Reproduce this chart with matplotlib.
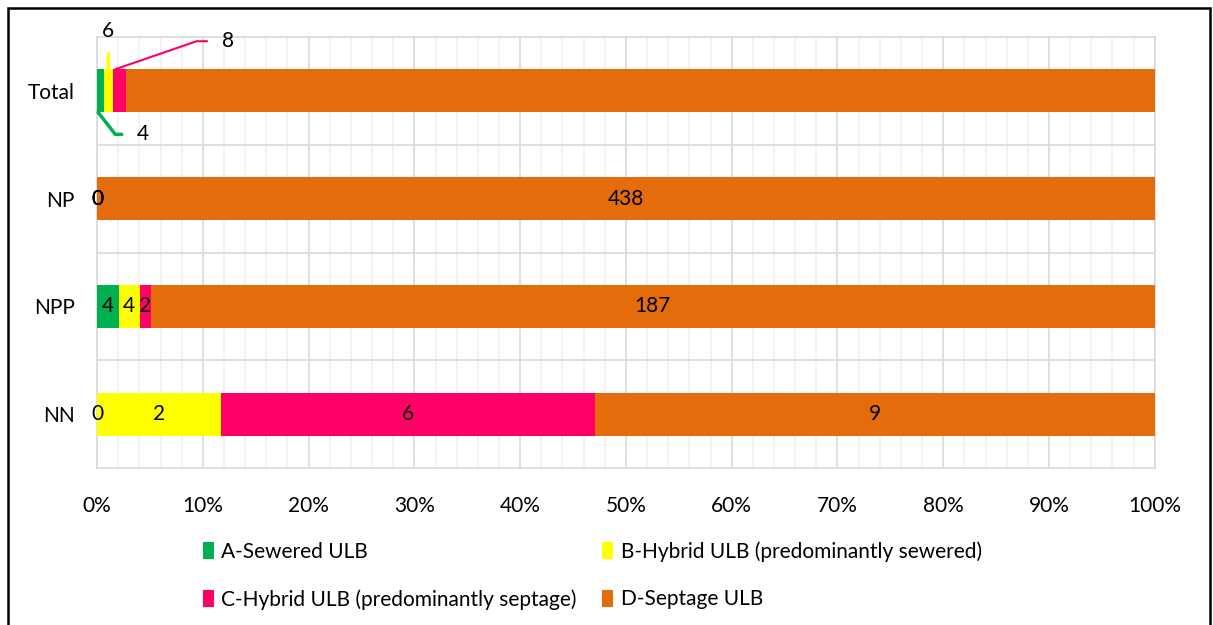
import matplotlib.pyplot as plt
from matplotlib.patches import Rectangle, Patch

plt.rcParams['font.family'] = ['Lato', 'DejaVu Sans']

# data, bottom row first
categories = ["NN", "NPP", "NP", "Total"]
series_names = ["A-Sewered ULB", "B-Hybrid ULB (predominantly sewered)",
                "C-Hybrid ULB (predominantly septage)", "D-Septage ULB"]
sewered = [0, 4, 0, 4]
hybrid_sewered = [2, 4, 0, 6]
hybrid_septage = [6, 2, 0, 8]
septage = [9, 187, 438, 634]
colors = ["#00B050", "#FFFF00", "#FF0066", "#E46C0A"]

series = [sewered, hybrid_sewered, hybrid_septage, septage]
totals = [sum(v) for v in zip(*series)]
fs = 15

fig = plt.figure(figsize=(12.13, 6.25), dpi=100)
ax = fig.add_axes([0.080, 0.251, 0.872, 0.690])

# outer frame of the chart
fig.patches.append(Rectangle((0.0065, -0.05), 0.991, 1.037, transform=fig.transFigure,
                             fill=False, edgecolor="black", linewidth=1.8))

ypos = list(range(len(categories)))
left = [0.0] * len(categories)
bar_h = 0.4
for name, vals, col in zip(series_names, series, colors):
    pct = [v / t * 100 for v, t in zip(vals, totals)]
    ax.barh(ypos, pct, left=left, height=bar_h, color=col, label=name, zorder=3)
    for i, cat in enumerate(categories):
        if cat == "Total":
            continue
        ax.text(left[i] + pct[i] / 2, ypos[i], str(vals[i]), ha="center", va="center",
                fontsize=fs, zorder=4)
    left = [l + p for l, p in zip(left, pct)]

# callout labels for the Total bar
t = categories.index("Total")
cum = [0.0]
for vals in series:
    cum.append(cum[-1] + vals[t] / totals[t] * 100)
top = t + bar_h / 2
bot = t - bar_h / 2
ax.annotate(str(sewered[t]), xy=(cum[0] + 0.1, bot), xytext=(45, -22), textcoords="offset pixels",
            ha="center", va="center", fontsize=fs,
            arrowprops=dict(arrowstyle="-", color=colors[0], lw=2.5, shrinkA=9, shrinkB=0,
                            connectionstyle="angle,angleA=0,angleB=-52,rad=0"))
ax.annotate(str(hybrid_sewered[t]), xy=((cum[1] + cum[2]) / 2, top), xytext=(0, 38),
            textcoords="offset pixels", ha="center", va="center", fontsize=fs,
            arrowprops=dict(arrowstyle="-", color=colors[1], lw=2.5, shrinkA=7, shrinkB=0))
ax.annotate(str(hybrid_septage[t]), xy=(cum[2] + 0.2, top), xytext=(113, 28),
            textcoords="offset pixels", ha="center", va="center", fontsize=fs,
            arrowprops=dict(arrowstyle="-", color=colors[2], lw=1.5, shrinkA=9, shrinkB=0,
                            connectionstyle="angle,angleA=0,angleB=19,rad=0"))

ax.set_xlim(0, 100)
ax.set_ylim(-0.5, len(categories) - 0.5)
ax.set_xticks(range(0, 101, 10))
ax.set_xticklabels([f"{v}%" for v in range(0, 101, 10)])
ax.set_xticks(range(0, 101, 2), minor=True)
ax.set_yticks(ypos)
ax.set_yticklabels(categories)
ax.set_yticks([i + 0.5 for i in range(len(categories) - 1)], minor=True)
ax.tick_params(axis="both", which="both", length=0, labelsize=fs)
ax.tick_params(axis="x", pad=20)
ax.tick_params(axis="y", pad=16)
ax.grid(axis="x", which="major", color="#D9D9D9", linewidth=1.2, zorder=1)
ax.grid(axis="x", which="minor", color="#F0F0F0", linewidth=1.2, zorder=0)
ax.grid(axis="y", which="minor", color="#D9D9D9", linewidth=1.2, zorder=1)
ax.grid(axis="y", which="major", visible=False)
for s in ax.spines.values():
    s.set_color("#D9D9D9")
    s.set_linewidth(1.2)

# legend filled row by row: A, B / C, D
handles = [Patch(facecolor=c, label=n) for n, c in zip(series_names, colors)]
handles = [handles[0], handles[2], handles[1], handles[3]]
fig.legend(handles=handles, ncol=2, loc="upper left", bbox_to_anchor=(0.167, 0.134),
           frameon=False, fontsize=fs, handlelength=0.55, handleheight=0.9,
           handletextpad=0.35, columnspacing=1.2, labelspacing=1.32,
           borderpad=0, borderaxespad=0)

fig.savefig("out.png", dpi=100)
